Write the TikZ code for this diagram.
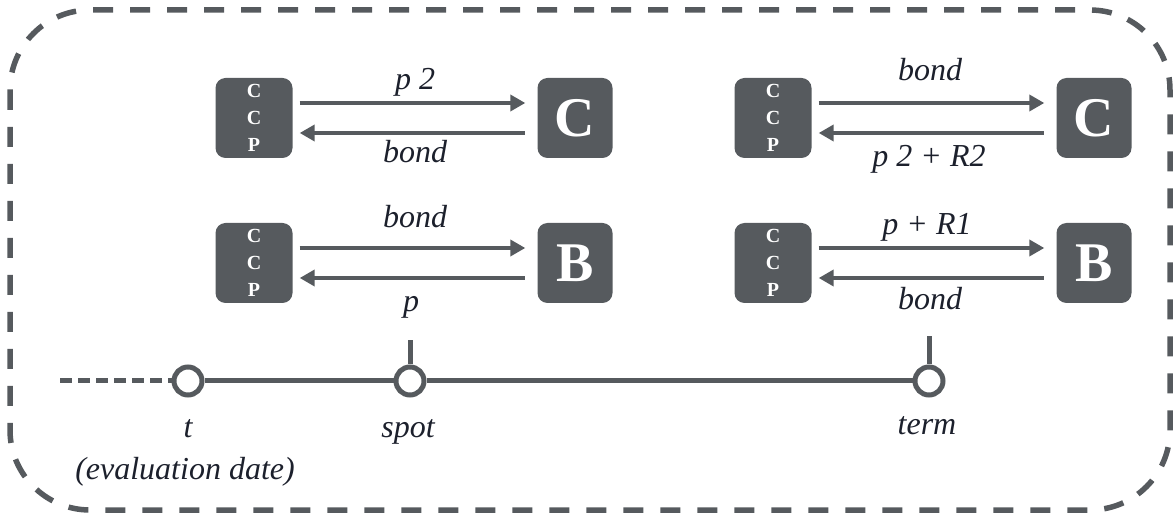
\documentclass[tikz,border=0pt]{standalone}
\usepackage{fontspec}
\setmainfont{Liberation Serif}
\usetikzlibrary{arrows.meta}
\definecolor{slate}{RGB}{86,90,94}
\definecolor{ink}{RGB}{28,32,44}
\begin{document}
\begin{tikzpicture}[x=1pt,y=-1pt,
  party/.style={fill=slate,rounded corners=10pt,text=white,inner sep=0pt,minimum width=77pt,minimum height=80pt},
  ccp/.style={party,align=center,font=\fontsize{20}{27}\selectfont\bfseries},
  cpty/.style={party,minimum width=75pt,font=\fontsize{56}{56}\selectfont\bfseries},
  flow/.style={draw=slate,line width=4.5pt,shorten <=7pt,shorten >=12pt},
  pay/.style={flow,-{Triangle[length=15pt,width=16pt]}},
  recv/.style={flow,{Triangle[length=15pt,width=16pt]}-},
  lbl/.style={anchor=base,text=ink,font=\fontsize{32}{32}\selectfont\itshape},
  over/.style={lbl,yshift=#1},over/.default=13pt,
  under/.style={lbl,yshift=#1},under/.default=-32pt,
  dot/.style={circle,draw=slate,line width=5pt,fill=white,minimum size=28pt,inner sep=0pt},
  axis/.style={draw=slate,line width=5pt},
  frame/.style={draw=slate,line width=5.5pt,dash pattern=on 20pt off 17pt,rounded corners=80pt}]
\useasboundingbox (0,0) rectangle (1176,518);
\draw[frame] (10,10) rectangle (1170,510);
\node[ccp] (ccpTL) at (254,118) {C\\C\\P};
\node[cpty] (cptyTL) at (575,118) {C};
\node[ccp] (ccpBL) at (254,263) {C\\C\\P};
\node[cpty] (cptyBL) at (575,263) {B};
\node[ccp] (ccpTR) at (773,118) {C\\C\\P};
\node[cpty] (cptyTR) at (1094,118) {C};
\node[ccp] (ccpBR) at (773,263) {C\\C\\P};
\node[cpty] (cptyBR) at (1094,263) {B};
\draw[pay] ([yshift=15pt]ccpTL.east) -- ([yshift=15pt]cptyTL.west) node[midway,over] {p 2};
\draw[recv] ([yshift=-15pt]ccpTL.east) -- ([yshift=-15pt]cptyTL.west) node[midway,under=-30pt] {bond};
\draw[pay] ([yshift=15pt]ccpBL.east) -- ([yshift=15pt]cptyBL.west) node[midway,over=20pt] {bond};
\draw[recv] ([yshift=-15pt]ccpBL.east) -- ([yshift=-15pt]cptyBL.west) node[midway,under=-34pt,xshift=-4pt] {p};
\draw[pay] ([yshift=15pt]ccpTR.east) -- ([yshift=15pt]cptyTR.west) node[midway,over=22pt,xshift=-4pt] {bond};
\draw[recv] ([yshift=-15pt]ccpTR.east) -- ([yshift=-15pt]cptyTR.west) node[midway,under=-34pt,xshift=-5pt] {p 2 + R2};
\draw[pay] ([yshift=15pt]ccpBR.east) -- ([yshift=15pt]cptyBR.west) node[midway,over,xshift=-7pt] {p + R1};
\draw[recv] ([yshift=-15pt]ccpBR.east) -- ([yshift=-15pt]cptyBR.west) node[midway,under,xshift=-4pt] {bond};
\node[dot] (evalDot) at (188,381) {};
\node[dot] (spotDot) at (410,381) {};
\node[dot] (termDot) at (929,381) {};
\coordinate (pastEnd) at (60,381);
\coordinate (spotTop) at (410,340);
\coordinate (termTop) at (929,336);
\draw[axis,dash pattern=on 12pt off 6pt] (pastEnd) -- (evalDot);
\draw[axis] (evalDot) -- (spotDot) -- (termDot);
\draw[axis] (spotDot) -- (spotTop);
\draw[axis] (termDot) -- (termTop);
\node[lbl] (evalLbl) at (188,438) {t};
\node[lbl] (spotLbl) at (408,438) {spot};
\node[lbl] (termLbl) at (927,435) {term};
\node[lbl] (evalNote) at (185,480) {(evaluation date)};
\end{tikzpicture}
\end{document}
